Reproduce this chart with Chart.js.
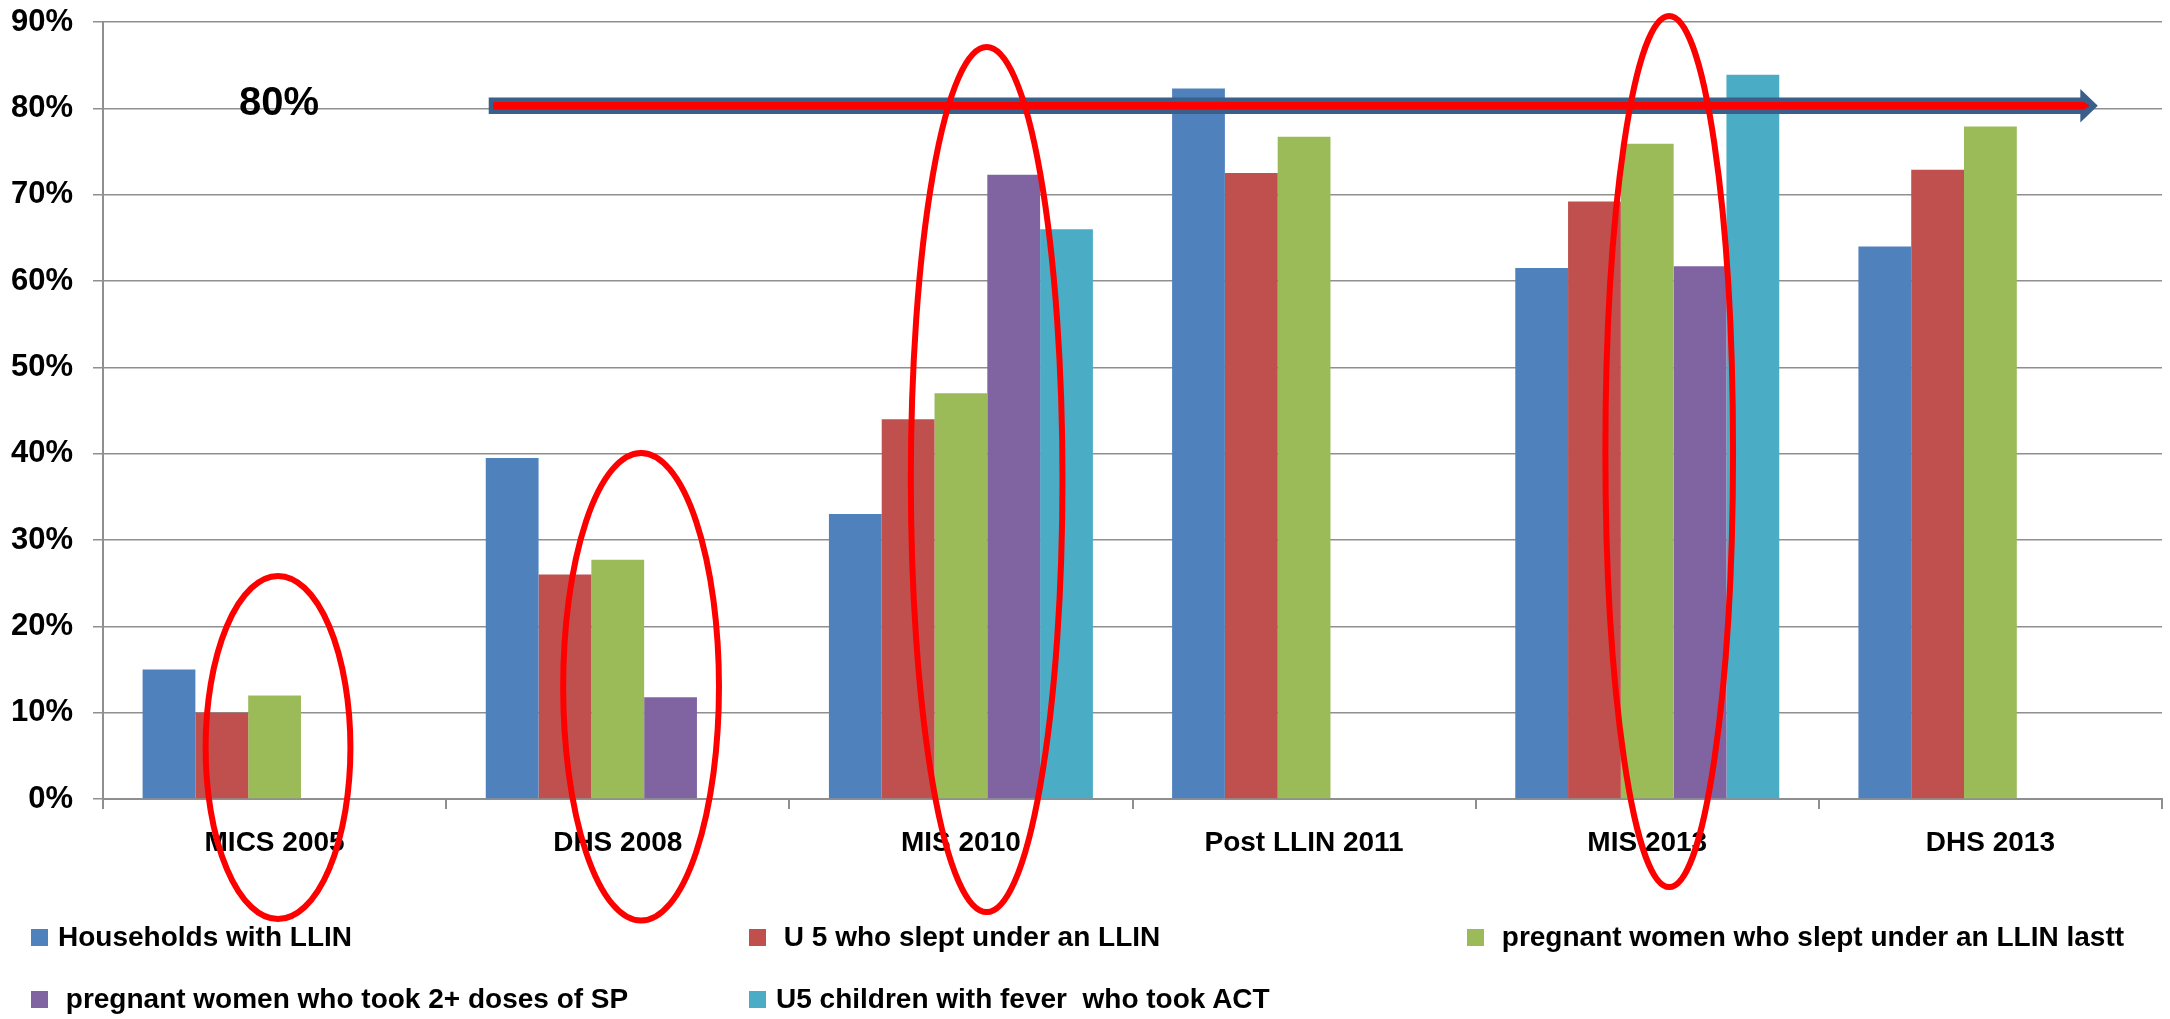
<!DOCTYPE html>
<html>
<head>
<meta charset="utf-8">
<title>LLIN, IPTp and ACT coverage by survey</title>
<script src="https://cdn.jsdelivr.net/npm/chart.js@4.4.1/dist/chart.umd.min.js"></script>
<style>
  html, body { margin: 0; padding: 0; background: #ffffff; }
  #wrap { position: relative; width: 2170px; height: 1019px; overflow: hidden; }
  #chart { position: absolute; left: 0; top: 0; }
  #legend {
    position: absolute; left: 31px; top: 920px;
    display: grid; grid-template-columns: repeat(3, 718px); row-gap: 28px;
    font: bold 28px "Liberation Sans", Arial, sans-serif; color: #000;
  }
  #legend .item { display: flex; align-items: center; height: 34px; line-height: 34px; white-space: pre; }
  #legend .sw { width: 17px; height: 17px; margin-right: 10px; flex: none; }
</style>
</head>
<body>
<div id="wrap">
  <canvas id="chart" width="2170" height="1019"></canvas>
  <div id="legend"></div>
</div>
<script>
// Survey rounds on the category axis
const categories = ['MICS 2005', 'DHS 2008', 'MIS 2010', 'Post LLIN 2011', 'MIS 2013', 'DHS 2013'];

// Coverage indicators, percent
const householdsWithLLIN      = [15, 39.5, 33, 82.3, 61.5, 64];
const u5SleptUnderLLIN        = [10, 26, 44, 72.5, 69.2, 72.9];
const pregnantSleptUnderLLIN  = [12, 27.7, 47, 76.7, 75.9, 77.9];
const pregnantTwoPlusDosesSP  = [null, 11.8, 72.3, null, 61.7, null];
const u5FeverTookACT          = [null, null, 66, null, 83.9, null];

const seriesLabels = [
  'Households with LLIN',
  ' U 5 who slept under an LLIN',
  ' pregnant women who slept under an LLIN lastt',
  ' pregnant women who took 2+ doses of SP',
  'U5 children with fever  who took ACT'
];

// Value axis
const yMin = 0, yMax = 90, yStep = 10;

// Coverage target
const targetValue = 80;
const targetLabel = '80%';

const seriesColors = ['#4F81BD', '#C0504D', '#9BBB59', '#8064A2', '#4BACC6'];
const seriesValues = [householdsWithLLIN, u5SleptUnderLLIN, pregnantSleptUnderLLIN, pregnantTwoPlusDosesSP, u5FeverTookACT];

const FONT = '"Liberation Sans", Arial, sans-serif';
const GRID = '#8f8f8f';

// Target arrow, "80%" label and highlight rings; x in category units, y in percent
const overlay = {
  arrow: { from: 0.624, to: 5.313, value: 80.3, color: '#3A5F8B', core: '#FF0000' },
  label: { at: 0.013, dy: 7, font: 'bold 40px ' + FONT },
  rings: [
    { cx: 0.010, cy: 5.96,  rx: 0.211, ry: 19.87 },
    { cx: 1.068, cy: 13.0,  rx: 0.227, ry: 27.08 },
    { cx: 2.075, cy: 37.0,  rx: 0.221, ry: 50.1 },
    { cx: 4.064, cy: 40.25, rx: 0.186, ry: 50.45 }
  ],
  ringColor: '#FF0000',
  ringWidth: 6
};

const overlayPlugin = {
  id: 'overlay',
  afterDraw(chart) {
    const { ctx, scales: { x, y } } = chart;
    const x0 = x.getPixelForValue(0);
    const catW = x.getPixelForValue(1) - x0;
    const xAt = v => x0 + v * catW;
    const pxPerUnit = Math.abs(y.getPixelForValue(0) - y.getPixelForValue(1));

    ctx.save();

    // target arrow
    const a = overlay.arrow;
    const ay = y.getPixelForValue(a.value);
    const xs = xAt(a.from), xt = xAt(a.to);
    const headLen = 17.5, shaftH = 8.3, headH = 16.7;
    ctx.fillStyle = a.color;
    ctx.beginPath();
    ctx.moveTo(xs, ay - shaftH);
    ctx.lineTo(xt - headLen, ay - shaftH);
    ctx.lineTo(xt - headLen, ay - headH);
    ctx.lineTo(xt, ay);
    ctx.lineTo(xt - headLen, ay + headH);
    ctx.lineTo(xt - headLen, ay + shaftH);
    ctx.lineTo(xs, ay + shaftH);
    ctx.closePath();
    ctx.fill();
    ctx.fillStyle = a.core;
    ctx.beginPath();
    ctx.moveTo(xs + 4.5, ay - 3.7);
    ctx.lineTo(xt - 14, ay - 3.7);
    ctx.lineTo(xt - 8, ay);
    ctx.lineTo(xt - 14, ay + 3.7);
    ctx.lineTo(xs + 4.5, ay + 3.7);
    ctx.closePath();
    ctx.fill();

    // target label
    ctx.fillStyle = '#000';
    ctx.font = overlay.label.font;
    ctx.textAlign = 'center';
    ctx.textBaseline = 'alphabetic';
    ctx.fillText(targetLabel, xAt(overlay.label.at), y.getPixelForValue(targetValue) + overlay.label.dy);

    // highlight rings
    ctx.strokeStyle = overlay.ringColor;
    ctx.lineWidth = overlay.ringWidth;
    overlay.rings.forEach(r => {
      ctx.beginPath();
      ctx.ellipse(xAt(r.cx), y.getPixelForValue(r.cy), r.rx * catW, r.ry * pxPerUnit, 0, 0, Math.PI * 2);
      ctx.stroke();
    });

    ctx.restore();
  }
};

const chart = new Chart(document.getElementById('chart'), {
  type: 'bar',
  data: {
    labels: categories,
    datasets: seriesValues.map((vals, i) => ({
      label: seriesLabels[i],
      data: vals,
      backgroundColor: seriesColors[i],
      borderWidth: 0,
      categoryPercentage: 5 / 6.5,
      barPercentage: 1
    }))
  },
  options: {
    responsive: false,
    devicePixelRatio: 1,
    animation: false,
    layout: { padding: { top: 22, right: 8, bottom: 120, left: 0 } },
    plugins: { legend: { display: false }, tooltip: { enabled: false } },
    scales: {
      x: {
        afterFit(s) { s.height = 100; s.paddingLeft = 0; s.paddingRight = 0; },
        grid: { offset: true, drawOnChartArea: false, drawTicks: true, tickLength: 10, color: GRID, lineWidth: 2 },
        border: { display: true, color: GRID, width: 2 },
        ticks: { color: '#000', padding: 17, font: { family: FONT, size: 28, weight: 'bold' }, maxRotation: 0, autoSkip: false }
      },
      y: {
        min: yMin, max: yMax,
        afterFit(s) { s.width = 103; s.paddingTop = 0; s.paddingBottom = 0; },
        grid: { color: GRID, lineWidth: 1.5, drawTicks: true, tickLength: 10 },
        border: { display: true, color: GRID, width: 2 },
        ticks: { stepSize: yStep, color: '#000', padding: 20, font: { family: FONT, size: 31, weight: 'bold' }, callback: v => v + '%' }
      }
    }
  },
  plugins: [overlayPlugin]
});

// Legend in a three-column grid, built from the chart's datasets
const legendEl = document.getElementById('legend');
chart.data.datasets.forEach(ds => {
  const item = document.createElement('div');
  item.className = 'item';
  const sw = document.createElement('span');
  sw.className = 'sw';
  sw.style.background = ds.backgroundColor;
  const tx = document.createElement('span');
  tx.textContent = ds.label;
  item.appendChild(sw);
  item.appendChild(tx);
  legendEl.appendChild(item);
});
</script>
</body>
</html>
